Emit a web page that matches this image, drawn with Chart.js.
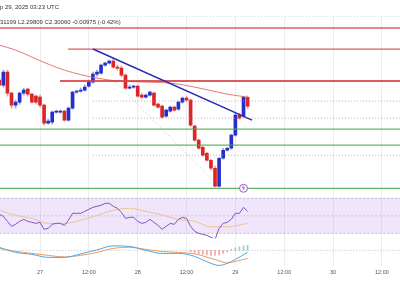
<!DOCTYPE html>
<html>
<head>
<meta charset="utf-8">
<script src="https://cdn.jsdelivr.net/npm/chart.js@4.4.1/dist/chart.umd.min.js"></script>
<style>
  html, body { margin: 0; padding: 0; background: #fff; }
  #wrap { position: relative; width: 400px; height: 300px; overflow: hidden; }
  #priceChart { position: absolute; left: 0; top: 0; }
  .hdr { position: absolute; left: 0; font-family: "Liberation Sans", Arial, sans-serif; font-size: 6px; color: #333; white-space: nowrap; line-height: 1; }
</style>
</head>
<body>
<div id="wrap">
  <canvas id="priceChart" width="400" height="300"></canvas>
  <div class="hdr" style="top:4px">p 29, 2025 03:23 UTC</div>
  <div class="hdr" style="top:19px">31199 L2.29809 C2.30060 -0.00975 (-0.42%)</div>
</div>
<script>
// Hourly candles, hour 0 = 27 Sep 00:00 UTC
const hours = [-10, -9, -8, -7, -6, -5, -4, -3, -2, -1,
  0, 1, 2, 3, 4, 5, 6, 7, 8, 9,
  10, 11, 12, 13, 14, 15, 16, 17, 18, 19,
  20, 21, 22, 23, 24, 25, 26, 27, 28, 29,
  30, 31, 32, 33, 34, 35, 36, 37, 38, 39,
  40, 41, 42, 43, 44, 45, 46, 47, 48, 49,
  50, 51];
const opens = [2.3292, 2.3237, 2.3380, 2.3149, 2.3017, 2.3050, 2.3149, 2.3193, 2.3138, 2.3116,
  2.3105, 2.3017, 2.2819, 2.2830, 2.2940, 2.2940, 2.2951, 2.2852, 2.2984, 2.3160,
  2.3171, 2.3182, 2.3226, 2.3270, 2.3358, 2.3369, 2.3457, 2.3479, 2.3501, 2.3435,
  2.3424, 2.3347, 2.3204, 2.3215, 2.3226, 2.3127, 2.3105, 2.3127, 2.3149, 2.3028,
  2.3006, 2.2896, 2.2951, 2.2995, 2.2973, 2.3050, 2.3094, 2.3072, 2.2786, 2.2632,
  2.2555, 2.2489, 2.2412, 2.2324, 2.2126, 2.2434, 2.2522, 2.2544, 2.2687, 2.2907,
  2.2896, 2.31035];
const highs = [2.3314, 2.3402, 2.3402, 2.3160, 2.3072, 2.3160, 2.3204, 2.3204, 2.3149, 2.3127,
  2.3127, 2.3028, 2.2863, 2.2951, 2.2962, 2.2962, 2.2962, 2.2995, 2.3171, 2.3182,
  2.3204, 2.3237, 2.3292, 2.3380, 2.3402, 2.3468, 2.3490, 2.3512, 2.3534, 2.3457,
  2.3446, 2.3358, 2.3237, 2.3237, 2.3237, 2.3149, 2.3138, 2.3171, 2.3160, 2.3039,
  2.3017, 2.2973, 2.3006, 2.3006, 2.3061, 2.3105, 2.3116, 2.3083, 2.2797, 2.2643,
  2.2566, 2.2500, 2.2423, 2.2346, 2.2445, 2.2544, 2.2555, 2.2698, 2.2929, 2.2929,
  2.3116, 2.31199];
const lows = [2.3215, 2.3215, 2.3116, 2.2984, 2.2984, 2.3028, 2.3127, 2.3116, 2.3039, 2.3028,
  2.2995, 2.2797, 2.2808, 2.2808, 2.2929, 2.2929, 2.2841, 2.2841, 2.2973, 2.3149,
  2.3160, 2.3171, 2.3215, 2.3259, 2.3336, 2.3358, 2.3446, 2.3468, 2.3424, 2.3402,
  2.3325, 2.3193, 2.3193, 2.3204, 2.3105, 2.3094, 2.3094, 2.3116, 2.3006, 2.2984,
  2.2874, 2.2885, 2.2940, 2.2951, 2.2962, 2.3039, 2.3061, 2.2786, 2.2621, 2.2533,
  2.2456, 2.2401, 2.2302, 2.2115, 2.2115, 2.2423, 2.2511, 2.2533, 2.2676, 2.2863,
  2.2885, 2.29809];
const closes = [2.3237, 2.3380, 2.3149, 2.3017, 2.3050, 2.3149, 2.3182, 2.3138, 2.3050, 2.3050,
  2.3017, 2.2819, 2.2841, 2.2940, 2.2946, 2.2951, 2.2852, 2.2984, 2.3160, 2.3171,
  2.3182, 2.3215, 2.3270, 2.3358, 2.3380, 2.3457, 2.3479, 2.3501, 2.3435, 2.3424,
  2.3347, 2.3204, 2.3215, 2.3221, 2.3116, 2.3105, 2.3127, 2.3160, 2.3017, 2.2995,
  2.2885, 2.2962, 2.2995, 2.2962, 2.3050, 2.3094, 2.3072, 2.2797, 2.2632, 2.2544,
  2.2467, 2.2412, 2.2324, 2.2126, 2.2434, 2.2522, 2.2544, 2.2687, 2.2907, 2.2874,
  2.3105, 2.30060];

// 100 hourly SMA
const smaHours = [-10, -6, -2, 2, 6, 10, 14, 18, 22, 26, 30, 34, 38, 42, 46, 51];
const smaValues = [2.3677, 2.3622, 2.3545, 2.3468, 2.3402, 2.3352, 2.3314, 2.3287, 2.3276, 2.3270,
  2.3265, 2.3248, 2.3215, 2.3177, 2.3138, 2.3105];

// RSI (per candle) and its moving average
const rsiValues = [51.7, 49.4, 43.7, 38.0, 40.3, 43.7, 46.0, 43.7, 42.6, 41.4,
  42.6, 34.6, 35.7, 40.3, 41.4, 41.4, 39.1, 44.9, 52.9, 52.9,
  52.9, 55.1, 57.4, 59.7, 60.9, 62.0, 64.3, 64.3, 60.9, 58.6,
  54.0, 47.1, 48.3, 48.3, 43.7, 41.4, 42.6, 46.0, 42.6, 39.1,
  34.6, 38.0, 41.4, 40.3, 46.0, 48.3, 47.1, 38.0, 32.3, 30.0,
  28.9, 27.7, 25.4, 23.1, 35.7, 41.4, 42.6, 46.0, 52.9, 52.9,
  59.7, 55.1];
const rsiMaHours = [-10, -6, -2, 2, 6, 10, 14, 18, 22, 26, 30, 34, 38, 42, 46, 51];
const rsiMaValues = [56.3, 50.6, 47.1, 41.4, 41.4, 44.9, 50.6, 56.3, 58.6, 55.1, 51.0, 46.0, 43.7, 37.5, 37.5, 41.4];
const rsiBands = [70, 50, 30];

// MACD
const macdHours = [-10, -6, -2, 2, 6, 10, 14, 18, 22, 26, 30, 34, 38, 40, 42, 44, 46, 48, 51];
const macdValues = [0.0006, -0.0004, -0.0008, -0.0014, -0.0014, -0.0007, 0.0001, 0.0009, 0.0008, 0.0000,
  -0.0006, -0.0006, -0.0012, -0.0019, -0.0026, -0.0030, -0.0026, -0.0018, -0.0004];
const signalValues = [0.0004, -0.0002, -0.0006, -0.0010, -0.0013, -0.0010, -0.0004, 0.0004, 0.0006, 0.0002,
  -0.0002, -0.0004, -0.0007, -0.0011, -0.0016, -0.0021, -0.0025, -0.0022, -0.0016];
const histHours = [37, 38, 39, 40, 41, 42, 43, 44, 45, 46, 47, 48, 49, 50, 51];
const histValues = [-0.0003, -0.0005, -0.0007, -0.0008, -0.0009, -0.0010, -0.0010, -0.0009, -0.0006, -0.0003,
  0.0002, 0.0005, 0.0007, 0.0009, 0.0010];

// Drawn levels
const resistanceLevels = [2.3864, 2.3633, 2.3281];
const resistanceStart = [-10, 6.9, 4.9];
const resistanceWidth = [1.3, 1.3, 2];
const supportLevels = [2.2753, 2.2577, 2.2104];
const fibLevels = [2.3996, 2.3061, 2.2874, 2.2467];
const fibStart = 13;
const fibDiagHours = [18, 43];
const fibDiagPrices = [2.3292, 2.2170];
const trendHours = [13, 52.1];
const trendPrices = [2.3633, 2.2852];
const eventHour = 50;
const eventPrice = 2.2104;

// X axis
const xMin = -9.83, xMax = 88.45;
const tickHours = [0, 12, 24, 36, 48, 60, 72, 84];
const tickLabels = ["27", "12:00", "28", "12:00", "29", "12:00", "30", "12:00"];

const UP = "#2430c8", DOWN = "#dc2626";
const FONT = '"Liberation Sans", Arial, sans-serif';

function hline(level, from, color, width, dash, axis) {
  return {
    type: "line", yAxisID: axis || "y",
    data: [{ x: from, y: level }, { x: 90, y: level }],
    borderColor: color, borderWidth: width, borderDash: dash || [],
    pointRadius: 0, tension: 0,
  };
}

const datasets = [];

// trend line
datasets.push({
  type: "line", yAxisID: "y",
  data: trendHours.map((h, i) => ({ x: h, y: trendPrices[i] })),
  borderColor: "#2a2ab8", borderWidth: 1.5, pointRadius: 0,
});
// event marker
datasets.push({
  type: "scatter", yAxisID: "y",
  data: [{ x: eventHour, y: eventPrice }],
  pointStyle: "circle", pointRadius: 4, borderColor: "#9b59d0", borderWidth: 1,
  backgroundColor: "#fff",
});
resistanceLevels.forEach((lv, i) => datasets.push(hline(lv, resistanceStart[i], "rgba(214,64,64,0.85)", resistanceWidth[i])));
supportLevels.forEach((lv) => datasets.push(hline(lv, -10, "rgba(72,170,72,0.85)", 1.2)));
fibLevels.forEach((lv) => datasets.push(hline(lv, fibStart, "rgba(150,150,150,0.7)", 1, [1, 2])));
datasets.push({
  type: "line", yAxisID: "y",
  data: fibDiagHours.map((h, i) => ({ x: h, y: fibDiagPrices[i] })),
  borderColor: "rgba(150,150,150,0.55)", borderWidth: 1, borderDash: [1, 2], pointRadius: 0,
});

// SMA
datasets.push({
  type: "line", yAxisID: "y",
  data: smaHours.map((h, i) => ({ x: h, y: smaValues[i] })),
  borderColor: "rgba(222,110,100,0.9)", borderWidth: 1, pointRadius: 0,
  cubicInterpolationMode: "monotone",
});

// candles
datasets.push({
  type: "bar", yAxisID: "y", grouped: false,
  data: hours.map((h, i) => ({ x: h, y: [opens[i], closes[i]] })),
  backgroundColor: hours.map((h, i) => (closes[i] >= opens[i] ? UP : DOWN)),
  barThickness: 3, minBarLength: 1, borderWidth: 0,
});
datasets.push({
  type: "bar", yAxisID: "y", grouped: false,
  data: hours.map((h, i) => ({ x: h, y: [lows[i], highs[i]] })),
  backgroundColor: hours.map((h, i) => (closes[i] >= opens[i] ? "rgba(36,48,200,0.45)" : "rgba(220,38,38,0.45)")),
  barThickness: 1, borderWidth: 0,
});

// RSI pane
datasets.push({
  type: "line", yAxisID: "rsi",
  data: hours.map((h, i) => ({ x: h, y: rsiValues[i] })),
  borderColor: "#7e57c2", borderWidth: 1, pointRadius: 0, tension: 0,
});
datasets.push({
  type: "line", yAxisID: "rsi",
  data: rsiMaHours.map((h, i) => ({ x: h, y: rsiMaValues[i] })),
  borderColor: "rgba(240,190,130,0.9)", borderWidth: 1, pointRadius: 0,
  cubicInterpolationMode: "monotone",
});
datasets.push(Object.assign(hline(rsiBands[0], -10, "rgba(150,140,170,0.6)", 1, [2, 2], "rsi"),
  { fill: "+1", backgroundColor: "rgba(155,90,230,0.15)" }));
datasets.push(hline(rsiBands[2], -10, "rgba(150,140,170,0.6)", 1, [2, 2], "rsi"));
datasets.push(hline(rsiBands[1], -10, "rgba(150,140,170,0.4)", 1, [2, 2], "rsi"));

// MACD pane
datasets.push({
  type: "line", yAxisID: "macd",
  data: macdHours.map((h, i) => ({ x: h, y: macdValues[i] })),
  borderColor: "#4ea8de", borderWidth: 1, pointRadius: 0, cubicInterpolationMode: "monotone",
});
datasets.push({
  type: "line", yAxisID: "macd",
  data: macdHours.map((h, i) => ({ x: h, y: signalValues[i] })),
  borderColor: "#f29a5c", borderWidth: 1, pointRadius: 0, cubicInterpolationMode: "monotone",
});
datasets.push({
  type: "bar", yAxisID: "macd", grouped: false,
  data: histHours.map((h, i) => ({ x: h, y: [0, histValues[i]] })),
  backgroundColor: histValues.map((v) => (v < 0 ? "rgba(235,130,130,0.7)" : "rgba(120,190,170,0.7)")),
  barThickness: 1, borderWidth: 0,
});
datasets.push(hline(0, -10, "rgba(150,150,150,0.6)", 1, [1, 2], "macd"));

// lightning glyph inside the event circle
const eventGlyph = {
  id: "eventGlyph",
  afterDatasetsDraw(chart) {
    const px = chart.scales.x.getPixelForValue(eventHour);
    const py = chart.scales.y.getPixelForValue(eventPrice);
    const c = chart.ctx;
    c.save();
    c.fillStyle = "#9b59d0";
    c.font = "bold 6px 'DejaVu Sans'";
    c.textAlign = "center";
    c.textBaseline = "middle";
    c.fillText("ϟ", px, py + 0.5);
    c.restore();
  },
};

const hiddenAxis = {
  type: "linear", position: "right", stack: "panes",
  ticks: { display: false }, grid: { display: false }, border: { display: false },
  afterFit: (scale) => { scale.width = 0; },
};

new Chart(document.getElementById("priceChart"), {
  type: "line",
  data: { datasets: datasets },
  plugins: [eventGlyph],
  options: {
    responsive: false,
    animation: false,
    layout: { autoPadding: false, padding: { top: 16, bottom: 21, left: 0, right: 0 } },
    plugins: { legend: { display: false }, tooltip: { enabled: false } },
    scales: {
      x: {
        type: "linear", min: xMin, max: xMax, offset: false,
        grid: { color: "rgba(0,0,0,0.07)", drawTicks: false, offset: false },
        border: { display: false },
        afterBuildTicks: (scale) => { scale.ticks = tickHours.map((v) => ({ value: v })); },
        ticks: {
          callback: (v) => tickLabels[tickHours.indexOf(v)],
          font: { size: 5.5, family: FONT }, color: "#555", padding: 3,
          maxRotation: 0, autoSkip: false,
        },
      },
      y: Object.assign({}, hiddenAxis, { stackWeight: 180, min: 2.2016, max: 2.3996 }),
      rsi: Object.assign({}, hiddenAxis, { stackWeight: 42, min: 24.3, max: 72.3 }),
      macd: Object.assign({}, hiddenAxis, { stackWeight: 28, min: -0.0032, max: 0.0024 }),
    },
  },
});
</script>
</body>
</html>
